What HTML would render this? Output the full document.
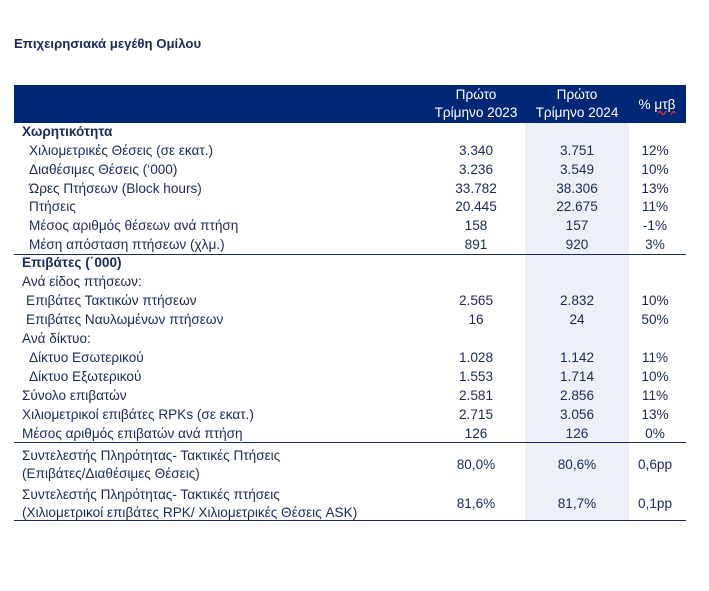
<!DOCTYPE html>
<html><head><meta charset="utf-8"><style>
body{margin:0;width:709px;height:591px;background:#fff;position:relative;font-family:"Liberation Sans Narrow","Liberation Sans",sans-serif;color:#1a2a5e;overflow:hidden}
.t{position:absolute;font-size:13.6px;line-height:16px;white-space:nowrap}
.c{position:absolute;font-size:13.6px;line-height:16px;text-align:center;width:100px;white-space:nowrap}
.b{font-weight:bold}
.ln{position:absolute;left:14px;width:672px;height:1px;background:#1a2a5e}
</style></head><body>
<div class="t b" style="left:14px;top:36px;font-size:13.2px">Επιχειρησιακά μεγέθη Ομίλου</div>
<div style="position:absolute;left:14px;top:85px;width:672px;height:38px;background:#002776"></div>
<div style="position:absolute;left:525px;top:123px;width:104px;height:397px;background:#eef0f8"></div>
<div class="c" style="left:426px;top:87px;color:#fff">Πρώτο</div>
<div class="c" style="left:426px;top:105px;color:#fff">Τρίμηνο 2023</div>
<div class="c" style="left:527px;top:87px;color:#fff">Πρώτο</div>
<div class="c" style="left:527px;top:105px;color:#fff">Τρίμηνο 2024</div>
<div class="c" style="left:607px;top:97px;color:#fff">% <span style="text-decoration:underline wavy #e03030">μτβ</span></div>
<div class="ln" style="top:254px"></div>
<div class="ln" style="top:442px"></div>
<div class="ln" style="top:520px"></div>
<div id="rows"></div>
<script>
var R=[
[124,22,"Χωρητικότητα","","","",1],
[143,29,"Χιλιομετρικές Θέσεις (σε εκατ.)","3.340","3.751","12%"],
[162,29,"Διαθέσιμες Θέσεις (‘000)","3.236","3.549","10%"],
[181,29,"Ώρες Πτήσεων (Block hours)","33.782","38.306","13%"],
[199,29,"Πτήσεις","20.445","22.675","11%"],
[218,29,"Μέσος αριθμός θέσεων ανά πτήση","158","157","-1%"],
[237,29,"Μέση απόσταση πτήσεων (χλμ.)","891","920","3%"],
[255,22,"Επιβάτες (΄000)","","","",1],
[274,22,"Ανά είδος πτήσεων:","","",""],
[293,26,"Επιβάτες Τακτικών πτήσεων","2.565","2.832","10%"],
[312,26,"Επιβάτες Ναυλωμένων πτήσεων","16","24","50%"],
[331,22,"Ανά δίκτυο:","","",""],
[350,29,"Δίκτυο Εσωτερικού","1.028","1.142","11%"],
[369,29,"Δίκτυο Εξωτερικού","1.553","1.714","10%"],
[388,22,"Σύνολο επιβατών","2.581","2.856","11%"],
[407,22,"Χιλιομετρικοί επιβάτες RPKs (σε εκατ.)","2.715","3.056","13%"],
[426,22,"Μέσος αριθμός επιβατών ανά πτήση","126","126","0%"],
[448,22,"Συντελεστής Πληρότητας- Τακτικές Πτήσεις","","",""],
[466,22,"(Επιβάτες/Διαθέσιμες Θέσεις)","","",""],
[457,22,"","80,0%","80,6%","0,6pp"],
[487,22,"Συντελεστής Πληρότητας- Τακτικές πτήσεις","","",""],
[505,22,"(Χιλιομετρικοί επιβάτες RPK/ Χιλιομετρικές Θέσεις ASK)","","",""],
[496,22,"","81,6%","81,7%","0,1pp"]];
var h="";R.forEach(function(r){
h+='<div class="t'+(r[6]?' b':'')+'" style="left:'+r[1]+'px;top:'+r[0]+'px">'+r[2]+'</div>';
h+='<div class="c" style="left:426px;top:'+r[0]+'px">'+r[3]+'</div>';
h+='<div class="c" style="left:527px;top:'+r[0]+'px">'+r[4]+'</div>';
h+='<div class="c" style="left:605px;top:'+r[0]+'px">'+r[5]+'</div>';});
document.getElementById("rows").innerHTML=h;
</script>
</body></html>
